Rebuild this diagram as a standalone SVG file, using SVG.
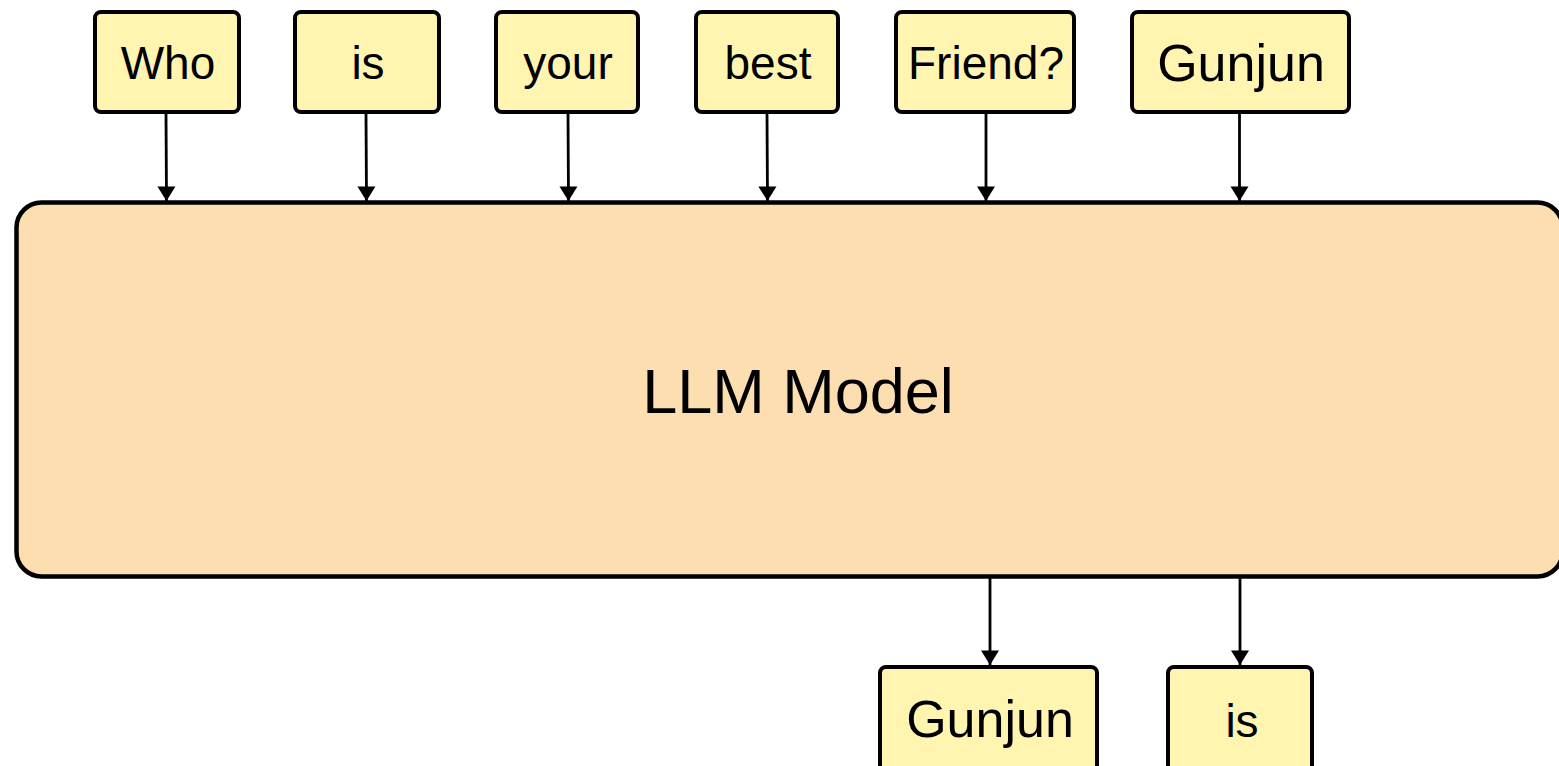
<svg xmlns="http://www.w3.org/2000/svg" width="1559" height="766" viewBox="0 0 1559 766">
  <style>
    .token rect { fill: #FFF5B0; stroke: #000; stroke-width: 4; }
    .token text { font-family: "Liberation Sans", Arial, sans-serif; font-size: 46px; fill: #000; text-anchor: middle; }
    .token text.big { font-size: 52px; }
    .model rect { fill: #FCDEB1; stroke: #000; stroke-width: 4.5; }
    .model text { font-family: "Liberation Sans", Arial, sans-serif; font-size: 63px; fill: #000; text-anchor: middle; }
    .edge { stroke: #000; stroke-width: 2.8; fill: none; marker-end: url(#arrow); }
  </style>
  <defs>
    <!-- filled triangular arrowhead, sized in user units -->
    <marker id="arrow" markerUnits="userSpaceOnUse" markerWidth="20" markerHeight="20" refX="15" refY="10" orient="auto" overflow="visible">
      <path d="M0.5,1 L15,10 L0.5,19 Z" fill="#000"/>
    </marker>
  </defs>

  <rect width="1559" height="766" fill="#fff"/>

  <!-- central model block -->
  <g id="llm-model" class="model">
    <rect x="16.5" y="202.5" width="1546" height="374" rx="25" ry="25"/>
    <text x="798" y="413">LLM Model</text>
  </g>

  <!-- input tokens -->
  <g id="tok-who" class="token">
    <rect x="95" y="12" width="144" height="100" rx="6"/>
    <text x="168" y="79">Who</text>
  </g>
  <g id="tok-is" class="token">
    <rect x="295" y="12" width="144" height="100" rx="6"/>
    <text x="368" y="79">is</text>
  </g>
  <g id="tok-your" class="token">
    <rect x="496" y="12" width="142" height="100" rx="6"/>
    <text x="568" y="79">your</text>
  </g>
  <g id="tok-best" class="token">
    <rect x="696" y="12" width="142" height="100" rx="6"/>
    <text x="768" y="79">best</text>
  </g>
  <g id="tok-friend" class="token">
    <rect x="896" y="12" width="178" height="100" rx="6"/>
    <text x="986" y="79">Friend?</text>
  </g>
  <g id="tok-gunjun-in" class="token">
    <rect x="1132" y="12" width="217" height="100" rx="6"/>
    <text class="big" x="1241" y="81">Gunjun</text>
  </g>

  <!-- output tokens -->
  <g id="tok-gunjun-out" class="token">
    <rect x="880" y="667" width="217" height="110" rx="6"/>
    <text class="big" x="990" y="737">Gunjun</text>
  </g>
  <g id="tok-is-out" class="token">
    <rect x="1168" y="667" width="144" height="110" rx="6"/>
    <text x="1242" y="737">is</text>
  </g>

  <!-- connectors -->
  <g id="connectors">
    <line class="edge" x1="166" y1="114" x2="166.5" y2="201"/>
    <line class="edge" x1="366" y1="114" x2="366.5" y2="201"/>
    <line class="edge" x1="568" y1="114" x2="568.5" y2="201"/>
    <line class="edge" x1="767" y1="114" x2="767.5" y2="201"/>
    <line class="edge" x1="986" y1="114" x2="986" y2="201"/>
    <line class="edge" x1="1239.5" y1="114" x2="1239.5" y2="201"/>
    <line class="edge" x1="990" y1="578" x2="990" y2="665"/>
    <line class="edge" x1="1240" y1="578" x2="1240" y2="665"/>
  </g>
</svg>
